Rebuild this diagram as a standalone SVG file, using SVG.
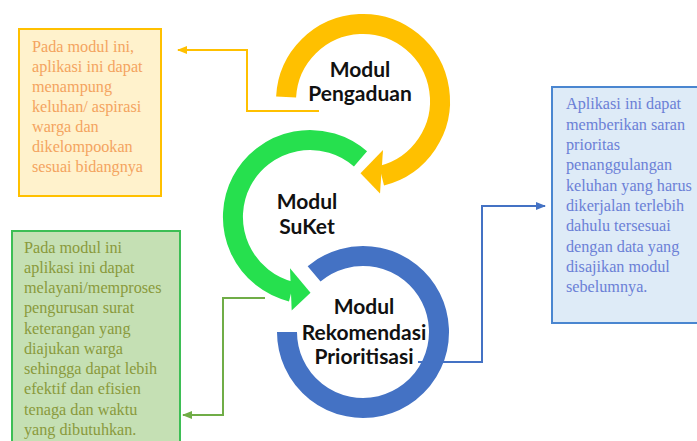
<svg xmlns="http://www.w3.org/2000/svg" width="697" height="441" viewBox="0 0 697 441">
<style>
.desc{font-family:"Liberation Serif","Times New Roman",serif;font-size:16.2px}
.lbl{font-family:Lato,"Liberation Sans",sans-serif;font-weight:bold;font-size:21px;fill:#111;text-anchor:middle;stroke:#fff;stroke-width:3px;paint-order:stroke;stroke-linejoin:round}
.ring{fill:none;stroke-width:20}
.conn{fill:none;stroke-width:2}
</style>
<defs>
<marker id="ay" markerWidth="10" markerHeight="10" refX="9" refY="5" orient="auto" markerUnits="userSpaceOnUse"><path d="M0,1 L10,5 L0,9 Z" fill="#FFC000"/></marker>
<marker id="ag" markerWidth="10" markerHeight="10" refX="9" refY="5" orient="auto" markerUnits="userSpaceOnUse"><path d="M0,1 L10,5 L0,9 Z" fill="#70AD47"/></marker>
<marker id="ab" markerWidth="10" markerHeight="10" refX="9" refY="5" orient="auto" markerUnits="userSpaceOnUse"><path d="M0,1 L10,5 L0,9 Z" fill="#4472C4"/></marker>
</defs>
<rect width="697" height="441" fill="#fff"/>
<g id="connectors">
<path class="conn" stroke="#FFC000" d="M319,111 H247 V50 H178" marker-end="url(#ay)"/>
<path class="conn" stroke="#70AD47" d="M265,298 H223 V415 H183" marker-end="url(#ag)"/>
<path class="conn" stroke="#4472C4" d="M418,362 H482 V206 H545" marker-end="url(#ab)"/>
</g>
<g id="box-pengaduan">
<rect x="19" y="29" width="142" height="167" fill="#FFF2CC" stroke="#FFC000" stroke-width="2"/>
<text class="desc" fill="#F4A460">
<tspan x="32" y="51.7">Pada modul ini,</tspan>
<tspan x="32" y="71.7">aplikasi ini dapat</tspan>
<tspan x="32" y="91.7">menampung</tspan>
<tspan x="32" y="111.7">keluhan/ aspirasi</tspan>
<tspan x="32" y="131.7">warga dan</tspan>
<tspan x="32" y="151.7">dikelompookan</tspan>
<tspan x="32" y="171.7">sesuai bidangnya</tspan>
</text>
</g>
<g id="box-suket">
<rect x="12" y="231" width="168" height="215" fill="#C5E0B4" stroke="#3DBE55" stroke-width="2"/>
<text class="desc" fill="#8A9A3C">
<tspan x="24" y="252.7">Pada modul ini</tspan>
<tspan x="24" y="272.9">aplikasi ini dapat</tspan>
<tspan x="24" y="293.2">melayani/memproses</tspan>
<tspan x="24" y="313.4">pengurusan surat</tspan>
<tspan x="24" y="333.7">keterangan yang</tspan>
<tspan x="24" y="353.9">diajukan warga</tspan>
<tspan x="24" y="374.2">sehingga dapat lebih</tspan>
<tspan x="24" y="394.4">efektif dan efisien</tspan>
<tspan x="24" y="414.7">tenaga dan waktu</tspan>
<tspan x="24" y="434.9">yang dibutuhkan.</tspan>
</text>
</g>
<g id="box-rekomendasi">
<rect x="552" y="87" width="150" height="236" fill="#DEEBF7" stroke="#4A86D0" stroke-width="2"/>
<text class="desc" fill="#6B80D6">
<tspan x="566" y="109.3">Aplikasi ini dapat</tspan>
<tspan x="566" y="129.6">memberikan saran</tspan>
<tspan x="566" y="150">prioritas</tspan>
<tspan x="566" y="170.3">penanggulangan</tspan>
<tspan x="566" y="190.6">keluhan yang harus</tspan>
<tspan x="566" y="211">dikerjalan terlebih</tspan>
<tspan x="566" y="231.3">dahulu tersesuai</tspan>
<tspan x="566" y="251.6">dengan data yang</tspan>
<tspan x="566" y="272">disajikan modul</tspan>
<tspan x="566" y="292.3">sebelumnya.</tspan>
</text>
</g>
<g id="modul-rekomendasi">
<path class="ring" stroke="#4472C4" d="M287,332 A76,76 0 1 0 314.1,273.8"/>
<text class="lbl"><tspan x="364" y="314">Modul</tspan><tspan x="364" y="340">Rekomendasi</tspan><tspan x="364" y="364">Prioritisasi</tspan></text>
</g>
<g id="modul-suket">
<path class="ring" stroke="#26E04E" d="M360.5,158.9 A77,77 0 1 0 291.4,291.7"/>
<polygon fill="#26E04E" points="290,268.3 310.5,292.7 291.7,310.5"/>
<text class="lbl"><tspan x="307" y="209">Modul</tspan><tspan x="307" y="234">SuKet</tspan></text>
</g>
<g id="modul-pengaduan">
<path class="ring" stroke="#FFC000" d="M286.1,97 A77,77 0 1 1 381.6,175.7"/>
<polygon fill="#FFC000" points="383,150 360.5,173.3 380,193.5"/>
<text class="lbl"><tspan x="360" y="77">Modul</tspan><tspan x="360" y="101">Pengaduan</tspan></text>
</g>
</svg>
